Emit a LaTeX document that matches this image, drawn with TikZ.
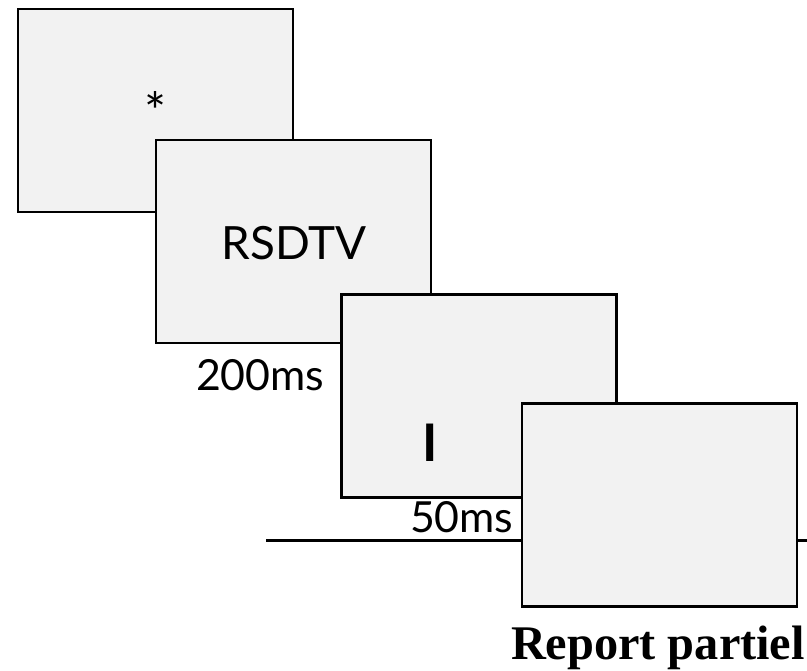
\documentclass[tikz,border=0pt]{standalone}
\usepackage{fontspec}
\setmainfont{Lato}
\newfontfamily\reportfont{Liberation Serif}
\definecolor{boxgray}{HTML}{F2F2F2}
\begin{document}
\begin{tikzpicture}[x=1bp,y=-1bp,
  screen/.style={draw=black,fill=boxgray,line width=2.6bp,minimum width=275bp,minimum height=203bp,inner sep=0pt,outer sep=0pt},
  stimtext/.style={inner sep=0pt,outer sep=0pt,font=\fontsize{46}{52}\selectfont,anchor=base},
  timetext/.style={inner sep=0pt,outer sep=0pt,font=\fontsize{43}{49}\selectfont,anchor=base west}]
\useasboundingbox (0,0) rectangle (807,671);
\node[screen] (s1) at (155.5,110.5) {};
\node[stimtext,font=\fontsize{52}{58}\selectfont] (t1) at (155.5,131) {*};
\node[screen] (s2) at (293.5,241.5) {};
\node[stimtext] (t2) at (294,259) {RSDTV};
\node[timetext] (d1) at (196,390) {200ms};
\node[screen] (s3) at (479,396) {};
\node[stimtext,font=\fontsize{52}{58}\selectfont\bfseries] (t3) at (430.5,461) {I};
\node[timetext] (d2) at (410,532) {50ms};
\coordinate (l1) at (266,540);
\coordinate (l2) at (807,540);
\draw[line width=3bp] (l1) -- (l2);
\node[screen] (s4) at (659.5,505) {};
\node[inner sep=0pt,outer sep=0pt,anchor=base west,font=\reportfont\bfseries\fontsize{48.5}{54}\selectfont] (rp) at (511,659) {Report partiel};
\end{tikzpicture}
\end{document}
